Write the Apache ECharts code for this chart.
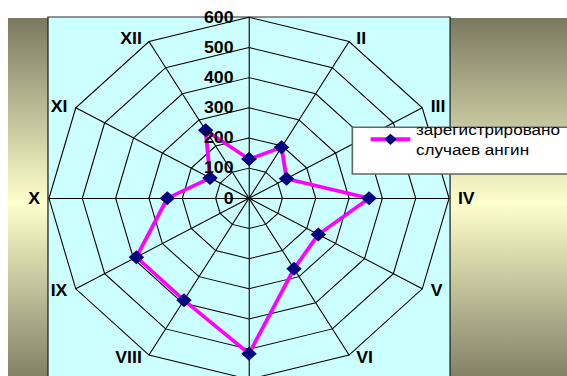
<!DOCTYPE html>
<html>
<head>
<meta charset="utf-8">
<script src="https://cdn.jsdelivr.net/npm/echarts@6/dist/echarts.min.js"></script>
<style>
  html, body { margin: 0; padding: 0; background: #ffffff; overflow: hidden; }
  /* the chart is laid out at 513px and stretched to fill the 567px page */
  #main { width: 513px; height: 376px; transform: scaleX(1.10526); transform-origin: 0 0; }
</style>
</head>
<body>
<div id="main"></div>
<script>
// Months (Roman numerals), clockwise from the top
const months = ['I', 'II', 'III', 'IV', 'V', 'VI', 'VII', 'VIII', 'IX', 'X', 'XI', 'XII'];
// Registered cases of tonsillitis per month
const cases = [130, 195, 130, 360, 240, 270, 515, 390, 390, 245, 135, 260];
// Radial scale
const scaleMax = 600;
const scaleStep = 100;
// Month labels that are not printed on the chart
const hiddenNames = ['I', 'VII'];
const seriesName = 'зарегистрировано случаев ангин';

const CX = 225.3, CY = 198.3, R = 181;

// Radar indicators run counter-clockwise, so feed them in reverse month order
const order = [0].concat(months.map((m, i) => i).slice(1).reverse());
const indicators = order.map(i => ({ name: months[i], min: 0, max: scaleMax }));

// Closed polygon in polar coordinates: [radius, month index], back to the first month
const polarData = cases.map((v, i) => [v, i]).concat([[cases[0], months.length]]);

const chart = echarts.init(document.getElementById('main'), null, { renderer: 'svg' });
chart.setOption({
  animation: false,
  backgroundColor: '#ffffff',
  graphic: [
    {
      type: 'rect', z: -10, silent: true,
      shape: { x: 7.2, y: 18, width: 520, height: 370 },
      style: {
        fill: new echarts.graphic.LinearGradient(0, 0, 0, 1, [
          { offset: 0, color: '#7a7960' },
          { offset: 0.5, color: '#ffffcc' },
          { offset: 1, color: '#7a7960' }
        ])
      }
    },
    {
      type: 'rect', z: -9, silent: true,
      shape: { x: 43.4, y: 17, width: 363.8, height: 370 },
      style: { fill: '#ccffff', stroke: '#2a2a2a', lineWidth: 1.2 }
    }
  ],
  legend: {
    data: [seriesName],
    left: 318.8,
    top: 127.3,
    orient: 'vertical',
    padding: [-18, 40, 4.7, 14.5],
    backgroundColor: '#ffffff',
    borderColor: '#5f6868',
    borderWidth: 1.5,
    itemWidth: 36,
    itemHeight: 14,
    selectedMode: false,
    formatter: name => name.replace(' ', '\n'),
    lineStyle: { width: 4 },
    textStyle: {
      fontFamily: 'Arial', fontSize: 15.5, color: '#000000',
      lineHeight: 20, padding: [20, 0, 0, 0]
    }
  },
  radar: {
    center: [CX, CY],
    radius: R,
    startAngle: 90,
    splitNumber: scaleMax / scaleStep,
    shape: 'polygon',
    indicator: indicators,
    nameGap: 3,
    axisName: {
      formatter: name => (hiddenNames.includes(name) ? '' : name),
      color: '#000000',
      fontFamily: 'Arial',
      fontWeight: 'bold',
      fontSize: 16,
      verticalAlign: 'middle',
      padding: [0, 5]
    },
    axisLine: { lineStyle: { color: '#000000', width: 1 } },
    splitLine: { lineStyle: { color: '#000000', width: 1 } },
    splitArea: { show: false },
    axisLabel: { show: false },
    axisTick: { show: false }
  },
  polar: { center: [CX, CY], radius: R },
  angleAxis: {
    type: 'value', min: 0, max: months.length,
    startAngle: 90, clockwise: true,
    axisLine: { show: false }, axisTick: { show: false },
    axisLabel: { show: false }, splitLine: { show: false }
  },
  radiusAxis: {
    type: 'value', min: 0, max: scaleMax, interval: scaleStep,
    z: 20,
    axisLine: { show: false }, axisTick: { show: false }, splitLine: { show: false },
    axisLabel: {
      show: true, margin: 14,
      color: '#000000', fontFamily: 'Arial', fontWeight: 'bold', fontSize: 16
    }
  },
  series: [
    {
      name: seriesName,
      type: 'line',
      coordinateSystem: 'polar',
      data: polarData,
      symbol: 'diamond',
      symbolSize: 14,
      showSymbol: true,
      z: 5,
      lineStyle: { color: '#ff00ff', width: 3.5 },
      itemStyle: { color: '#000080' }
    }
  ]
});
</script>
</body>
</html>
